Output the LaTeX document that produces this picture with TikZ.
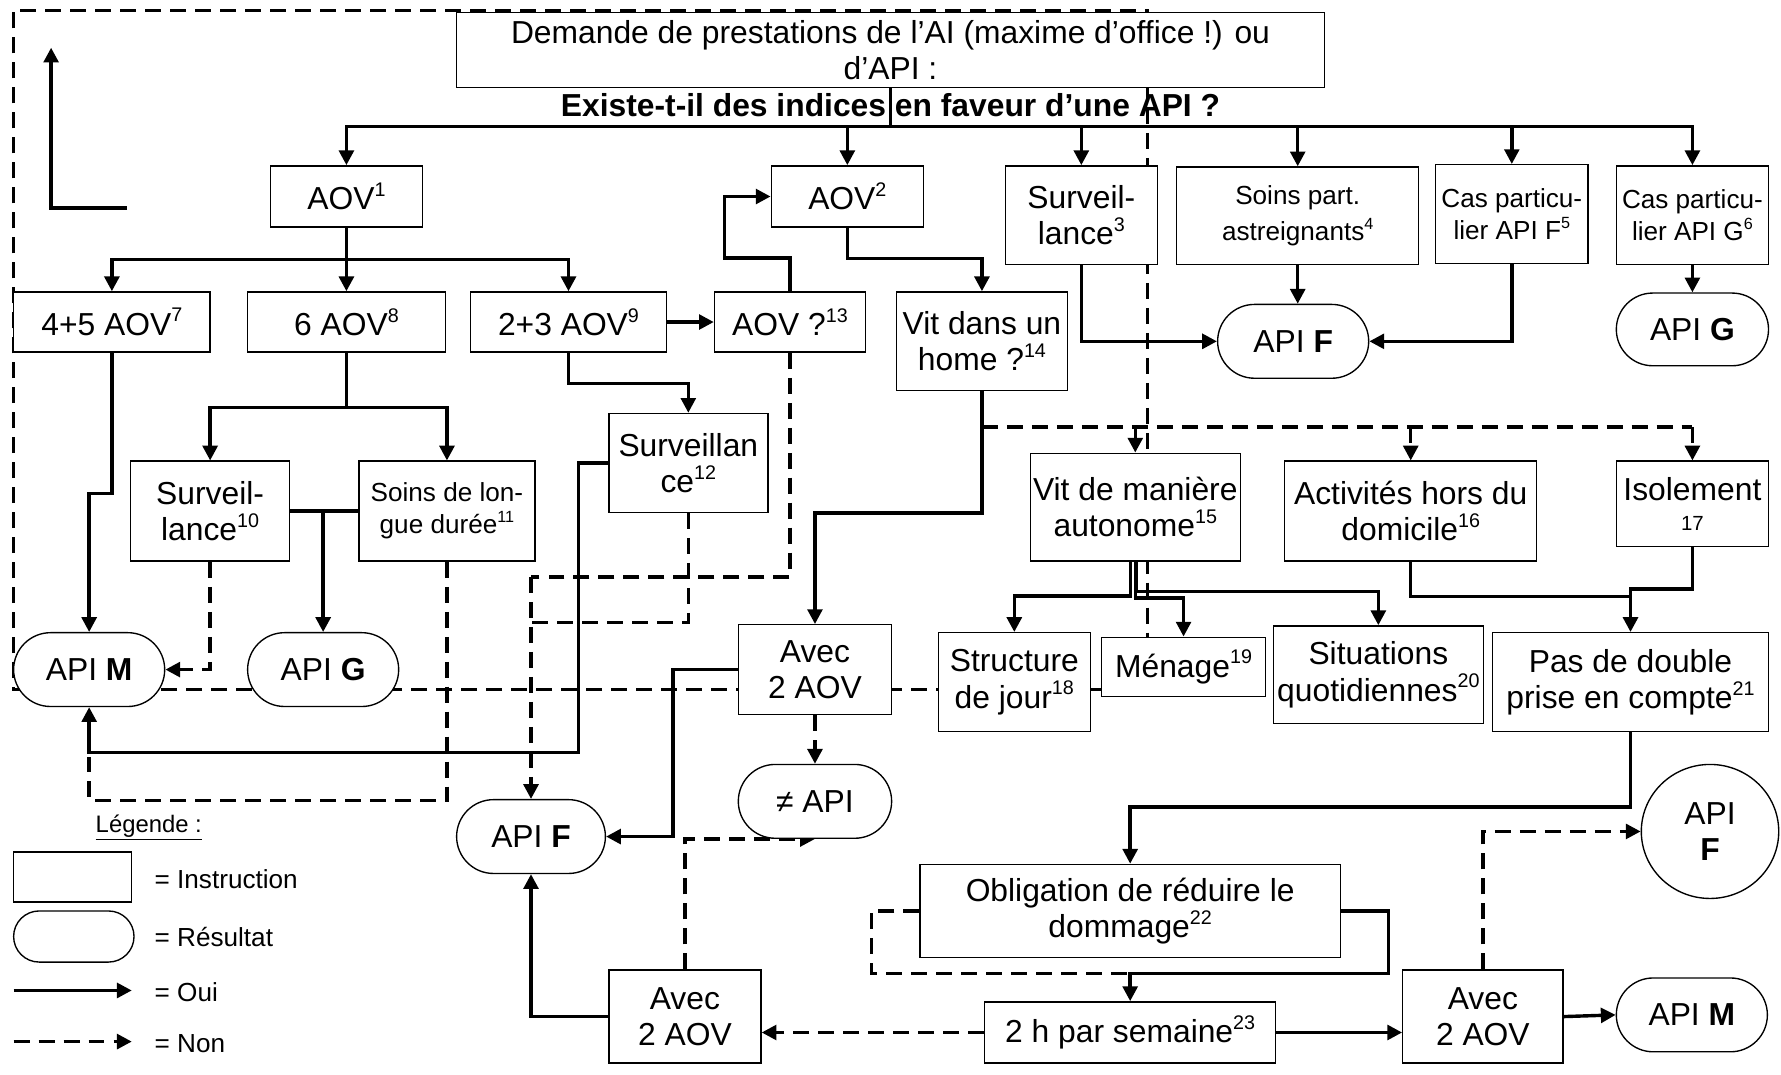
\documentclass[tikz,border=0pt]{standalone}
\usepackage{fontspec}
\setmainfont{Liberation Sans}
\usepackage{graphicx}
\usetikzlibrary{arrows.meta,shapes.misc,shapes.geometric}
\newcommand\fmain{\fontsize{28}{32}\selectfont}
\newcommand\fsmall{\fontsize{23}{28}\selectfont}
\newcommand\fleg{\fontsize{23}{28}\selectfont}
\newcommand\flegt{\fontsize{21}{25}\selectfont}
\newcommand\myup[1]{\raisebox{0.42em}{\scalebox{0.62}{#1}}}
\pgfdeclarelayer{bg}
\pgfsetlayers{bg,main}
\tikzset{
  inst/.style={draw, line width=1.2pt, fill=white, inner sep=0pt, align=center, font=\fmain},
  res/.style={rounded rectangle, draw, line width=1.2pt, fill=white, inner sep=0pt, align=center, font=\fmain},
  arrY/.style={line width=3pt, -{Triangle[length=13pt,width=13pt]}},
  lineY/.style={line width=3pt},
  arrN/.style={line width=3pt, dash pattern=on 14pt off 8pt, -{Triangle[length=13pt,width=13pt]}},
  lineN/.style={line width=3pt, dash pattern=on 14pt off 8pt},
  sz/.style 2 args={minimum width=#1, minimum height=#2},
  legtext/.style={font=\fleg, inner sep=0pt, anchor=base west}
}
\begin{document}
\begin{tikzpicture}[x=1pt,y=-1pt,line join=miter]
\useasboundingbox (0,0) rectangle (1568,946);

% ---------- nodes ----------
\node[inst, sz={764}{66}] (top) at (784,44) {Demande de prestations de l’AI (maxime d’office !) ou\\d’API :};
\node[font=\fmain\bfseries, inner sep=0pt, anchor=base] (q) at (784,103) {Existe-t-il des indices en faveur d’une API ?};

\node[inst, sz={134}{54}] (aov1) at (305,173) {AOV\myup{1}};
\node[inst, sz={134}{54}] (aov2) at (746,173) {AOV\myup{2}};
\node[inst, sz={134}{87}] (surv3) at (952,189.5) {Surveil-\\lance\myup{3}};
\node[inst, font=\fsmall, sz={213}{86}] (soins4) at (1142.5,190) {Soins part.\\[3pt]astreignants\myup{4}};
\node[inst, font=\fsmall, sz={134}{87}] (casf) at (1331,188.5) {Cas particu-\\lier API F\myup{5}};
\node[inst, font=\fsmall, sz={134}{87}] (casg) at (1490,189.5) {Cas particu-\\lier API G\myup{6}};

\node[inst, sz={173}{53}] (aov45) at (98.5,283.5) {4+5 AOV\myup{7}};
\node[inst, sz={174}{53}] (aov6) at (305,283.5) {6 AOV\myup{8}};
\node[inst, sz={173}{53}] (aov23) at (500.5,283.5) {2+3 AOV\myup{9}};
\node[inst, sz={133}{53}] (aov13) at (695.5,283.5) {AOV ?\myup{13}};
\node[inst, sz={151}{87}] (vithome) at (864.5,300.5) {Vit dans un\\home ?\myup{14}};
\node[res, sz={133}{65}] (apif) at (1138.5,300.5) {API \textbf{F}};
\node[res, sz={134}{64}] (apig) at (1490,290) {API \textbf{G}};

\node[inst, sz={140}{88}] (surv10) at (185,450) {Surveil-\\lance\myup{10}};
\node[inst, font=\fsmall, sz={155}{88}] (soinsl) at (393.5,450) {Soins de lon-\\gue durée\myup{11}};
\node[inst, sz={140}{87}] (surv12) at (606,407.5) {Surveillan\\ce\myup{12}};
\node[inst, sz={185}{95}] (vitman) at (999.5,446.5) {Vit de manière\\autonome\myup{15}};
\node[inst, sz={222}{88}] (activ) at (1242,450) {Activités hors du\\domicile\myup{16}};
\node[inst, sz={134}{75}] (isol) at (1490,443.5) {Isolement\\[-6pt]{\fontsize{18}{18}\selectfont 17}};

\node[res, sz={133}{65}] (apim) at (78.5,589.5) {API \textbf{M}};
\node[res, sz={133}{65}] (apig2) at (284.5,589.5) {API \textbf{G}};
\node[inst, sz={135}{79}] (aveca) at (717.5,589.5) {Avec\\2 AOV};
\node[inst, sz={134}{87}] (struct) at (893,600.5) {Structure\\de jour\myup{18}};
\node[inst, sz={144}{52}] (menage) at (1042,587) {Ménage\myup{19}};
\node[inst, sz={185}{86}] (situ) at (1213.5,594) {Situations\\quotidiennes\myup{20}};
\node[inst, sz={243}{87}] (pas) at (1435.5,600.5) {Pas de double\\prise en compte\myup{21}};

\node[res, sz={135}{65}] (noapi) at (717.5,705.5) {≠ API};
\node[res, sz={131}{65}] (apif2) at (467.5,736.5) {API \textbf{F}};
\node[ellipse, draw, line width=1.2pt, fill=white, inner sep=0pt, align=center, font=\fmain, sz={121}{118}] (apifc) at (1505.5,732) {API\\\textbf{F}};
\node[inst, sz={370}{82}] (oblig) at (995,802) {Obligation de réduire le\\dommage\myup{22}};
\node[inst, sz={134}{82}] (avecb) at (603,895) {Avec\\2 AOV};
\node[inst, sz={256}{54}] (twoh) at (995,909) {2 h par semaine\myup{23}};
\node[inst, sz={141}{82}] (avecc) at (1305.5,895) {Avec\\2 AOV};
\node[res, sz={133}{65}] (apim2) at (1489.5,893.5) {API \textbf{M}};

% legend
\node[font=\flegt, inner sep=0pt, anchor=base] (legt) at (131,733) {\underline{Légende :}};
\node[inst, sz={104}{44}] (legi) at (64,772) {};
\node[res, sz={106}{45}] (legr) at (65,824.5) {};
\node[legtext] (legti) at (136,782) {= Instruction};
\node[legtext] (legtr) at (136,833) {= Résultat};
\node[legtext] (legto) at (136,882) {= Oui};
\node[legtext] (legtn) at (136,927) {= Non};

% ---------- connectors ----------
\begin{pgfonlayer}{bg}
\fill[white] (0,0) rectangle (1568,946);

% big dashed loop
\coordinate (L0) at (970,607); \coordinate (L1) at (12,607);
\coordinate (L2) at (12,9); \coordinate (L3) at (1010,9);
\draw[lineN] (L0) -- (L1) -- (L2) -- (L3) -- (L3 |- menage.north);

% top-left L arrow
\coordinate (Lq1) at (112,183); \coordinate (Lq2) at (45,183); \coordinate (Lq3) at (45,42);
\draw[arrY] (Lq1) -- (Lq2) -- (Lq3);

% legend arrows
\coordinate (lo1) at (12,872); \coordinate (lo2) at (116,872);
\coordinate (ln1) at (12,917); \coordinate (ln2) at (116,917);
\draw[arrY] (lo1) -- (lo2);
\draw[arrN] (ln1) -- (ln2);

% top tree
\foreach \t in {aov1,aov2,surv3,soins4,casf,casg}
  \draw[arrY] (top.south) -- ++(0,34) -| (\t.north);

% AOV1 tree
\draw[arrY] (aov1.south) -- ++(0,28) -| (aov45.north);
\draw[arrY] (aov1.south) -- ++(0,28) -| (aov23.north);
\draw[arrY] (aov1.south) -- (aov6.north);

\draw[arrY] (aov23.east) -- (aov13.west);
\coordinate (k1) at (638,227);
\draw[arrY] (aov13.north) |- (k1) |- (aov2.west);
\draw[arrY] (aov2.south) -- ++(0,27) -| (vithome.north);

\draw[arrY] (surv3.south) |- (apif.west);
\draw[arrY] (soins4.south) -- (soins4.south |- apif.north);
\draw[arrY] (casf.south) |- (apif.east);
\draw[arrY] (casg.south) -- (apig.north);

% left part
\draw[arrY] (aov45.south) -- ++(0,124) -| (apim.north);
\draw[arrY] (aov6.south) -- ++(0,48) -| (surv10.north);
\draw[arrY] (aov6.south) -- ++(0,48) -| (soinsl.north);
\draw[lineY] (surv10.east) -- (soinsl.west);
\draw[arrY] (apig2.north |- surv10.east) -- (apig2.north);
\draw[arrN] (surv10.south) |- (apim.east);
\draw[lineN] (soinsl.south) -- ++(0,210) -| ++(-315,-38);

\draw[arrY] (aov23.south) -- ++(0,27) -| (surv12.north);
\draw[arrY] (surv12.west) -| ++(-26,255) -| (apim.south);
\coordinate (f1) at (467.5,508); \coordinate (f2) at (467.5,548);
\draw[lineN] (aov13.south) |- (f1);
\draw[lineN] (surv12.south) |- (f2);
\draw[arrN] (f1) -- (apif2.north);

% home
\draw[arrY] (vithome.south) -- ++(0,107) -| (aveca.north);
\coordinate (h1) at (864.5,376); \coordinate (h2) at (1490,376);
\draw[lineN] (h1) -- (h2);
\draw[arrN] (h1 -| vitman.north) -- (vitman.north);
\draw[arrN] (h1 -| activ.north) -- (activ.north);
\draw[arrN] (h2) -- (isol.north);

\draw[arrY] (aveca.west) -- ++(-57,0) |- (apif2.east);
\draw[arrN] (aveca.south) -- (noapi.north);
\draw[arrY] (avecb.west) -| (apif2.south);
\draw[arrN] (avecb.north) |- (noapi.south);

% autonome
\draw[arrY] ([xshift=-4pt]vitman.south) -- ++(0,30) -| (struct.north);
\draw[arrY] (vitman.south) -- ++(0,32) -| (menage.north);
\draw[arrY] ([xshift=1pt]vitman.south) -- ++(0,26) -| (situ.north);

\coordinate (p1) at (1435.5,525);
\draw[lineY] (activ.south) |- (p1);
\draw[arrY] (isol.south) -- ++(0,37) -| (pas.north);

\draw[arrY] (pas.south) -- ++(0,66) -| (oblig.north);
\coordinate (o1) at (995,857);
\draw[arrY] (oblig.east) -- ++(42,0) |- (o1) -- (twoh.north);
\draw[lineN] (oblig.west) -- ++(-42,0) |- (o1);

\draw[arrY] (twoh.east) -- (twoh.east -| avecc.west);
\draw[arrN] (twoh.west) -- (twoh.west -| avecb.east);
\draw[arrY] (avecc.east) -- (apim2.west);
\draw[arrN] (avecc.north) |- (apifc.west);
\end{pgfonlayer}
\end{tikzpicture}
\end{document}
